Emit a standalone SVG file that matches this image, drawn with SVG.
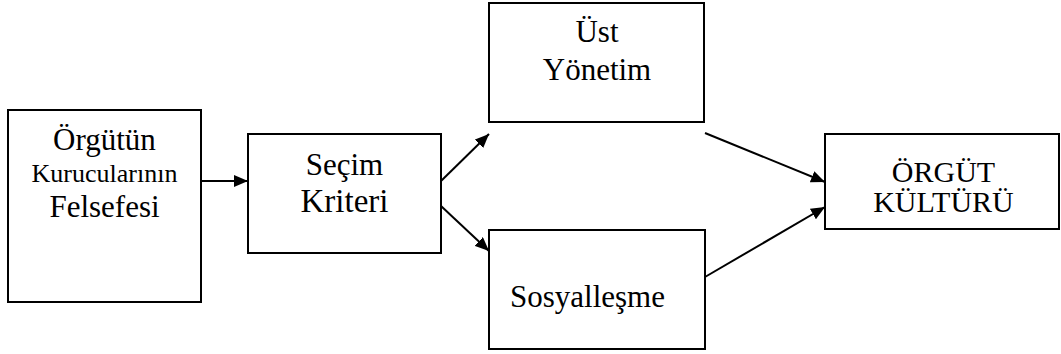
<svg xmlns="http://www.w3.org/2000/svg" width="1061" height="354" viewBox="0 0 1061 354">
<style>
.box{fill:#fff;stroke:#000;stroke-width:2}
.c{stroke:#000;stroke-width:2;fill:none;marker-end:url(#ah)}
</style>
<defs>
<marker id="ah" markerUnits="userSpaceOnUse" markerWidth="14" markerHeight="12" refX="14" refY="6" orient="auto">
<path d="M0,0 L14,6 L0,12 z" fill="#000"/>
</marker>
</defs>
<rect width="1061" height="354" fill="#fff"/>
<g font-family="Liberation Serif, Times New Roman, serif" font-size="31" fill="#000" text-anchor="middle">
<g id="n1">
<rect class="box" x="8" y="110" width="193" height="192"/>
<text x="104.5" y="150">Örgütün</text>
<text x="104.5" y="182" font-size="26">Kurucularının</text>
<text x="104.5" y="217">Felsefesi</text>
</g>
<g id="n2">
<rect class="box" x="248" y="134" width="193" height="119"/>
<text x="344.5" y="175">Seçim</text>
<text x="344.5" y="212" font-size="33">Kriteri</text>
</g>
<g id="n3">
<rect class="box" x="489" y="3" width="215" height="119"/>
<text x="597" y="42">Üst</text>
<text x="597" y="80">Yönetim</text>
</g>
<g id="n4">
<rect class="box" x="489" y="230" width="216" height="119"/>
<text x="510" y="307" text-anchor="start">Sosyalleşme</text>
</g>
<g id="n5">
<rect class="box" x="825" y="134" width="234" height="95"/>
<text x="943.5" y="182" font-size="30">ÖRGÜT</text>
<text x="943.5" y="212" font-size="30">KÜLTÜRÜ</text>
</g>
</g>
<g id="connectors">
<line class="c" x1="201" y1="181" x2="248" y2="181"/>
<line class="c" x1="441" y1="181" x2="489" y2="134"/>
<line class="c" x1="441" y1="206" x2="489" y2="251"/>
<line class="c" x1="705" y1="133" x2="825" y2="182"/>
<line class="c" x1="705" y1="277" x2="825" y2="207"/>
</g>
</svg>
